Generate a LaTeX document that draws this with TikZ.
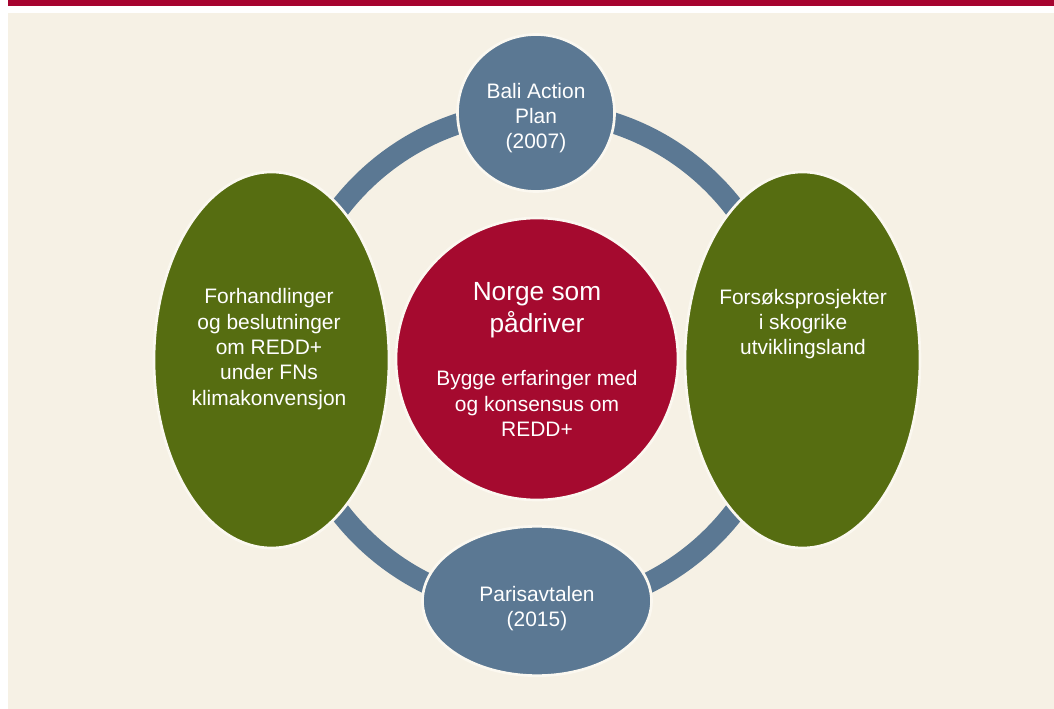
\documentclass[tikz,border=0pt]{standalone}
\usepackage{fontspec}
\setmainfont{Liberation Sans}
\usetikzlibrary{shapes.geometric}
\definecolor{barred}{HTML}{A6032F}
\definecolor{hubred}{HTML}{A50A2F}
\definecolor{slate}{HTML}{5B7893}
\definecolor{olive}{HTML}{566D11}
\definecolor{cream}{HTML}{F6F1E5}
\definecolor{rim}{HTML}{FBF8F0}
\tikzset{
  blob/.style={inner sep=0pt, outer sep=0pt, draw=rim, line width=2pt},
  bluecircle/.style={blob, circle, fill=slate},
  blueoval/.style={blob, ellipse, fill=slate},
  greenoval/.style={blob, ellipse, fill=olive},
  hub/.style={blob, circle, fill=hubred},
  txt/.style={text=white, align=center, inner sep=0pt, font=\fontsize{15.7}{19}\selectfont},
  bigtxt/.style={text=white, align=center, inner sep=0pt, font=\fontsize{19.7}{23.8}\selectfont},
}
\begin{document}
\begin{tikzpicture}[x=0.75pt,y=-0.75pt]
\useasboundingbox (0,0) rectangle (1054,709);
\fill[white] (0,0) rectangle (1054,709);
\fill[barred] (8,0) rectangle (1054,6);
\fill[cream] (8,13) rectangle (1054,709);
% ring
\draw[slate, line width=15.75pt] (537,360) circle [radius=249];
% shapes
\node[hub, minimum size=211.5pt] (hubshape) at (537,359) {};
\node[bluecircle, minimum size=117.75pt] (bali) at (536,113) {};
\node[blueoval, minimum width=171.75pt, minimum height=112pt] (paris) at (537,601) {};
\node[greenoval, minimum width=176.25pt, minimum height=282pt] (forh) at (271.5,360) {};
\node[greenoval, minimum width=176.25pt, minimum height=282pt] (fors) at (802.5,360) {};
% texts
\node[bigtxt] (hubtitle) at (537,310.5) {Norge som\\pådriver};
\node[txt] (hubbody) at (537,403.5) {Bygge erfaringer med\\og konsensus om\\REDD+};
\node[txt] (balitxt) at (536,118) {Bali Action\\Plan\\(2007)};
\node[txt] (paristxt) at (537,608.5) {Parisavtalen\\(2015)};
\node[txt] (forhtxt) at (269,349) {Forhandlinger\\og beslutninger\\om REDD+\\under FNs\\klimakonvensjon};
\node[txt] (forstxt) at (803,324) {Forsøksprosjekter\\i skogrike\\utviklingsland};
\end{tikzpicture}
\end{document}
